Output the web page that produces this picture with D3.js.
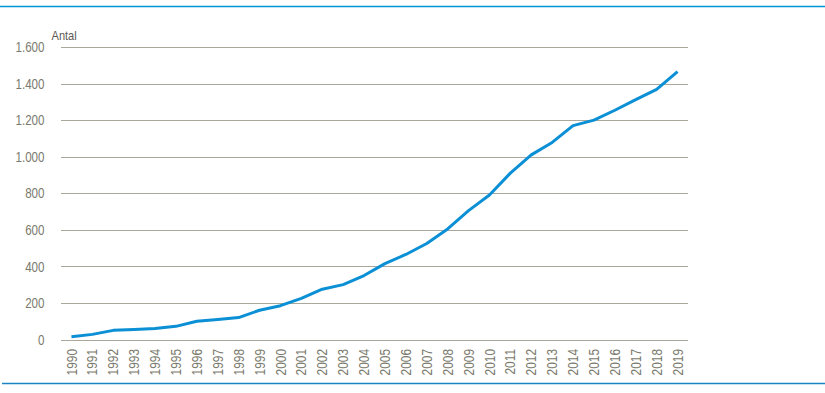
<!DOCTYPE html>
<html>
<head>
<meta charset="utf-8">
<script src="https://cdn.jsdelivr.net/npm/d3@7"></script>
<style>
  body { margin: 0; background: #fff; }
  svg { display: block; }
</style>
</head>
<body>
<div id="chart"></div>
<script>
// values
var years = ["1990","1991","1992","1993","1994","1995","1996","1997","1998","1999",
             "2000","2001","2002","2003","2004","2005","2006","2007","2008","2009",
             "2010","2011","2012","2013","2014","2015","2016","2017","2018","2019"];
var antal = [15, 28, 50, 55, 60, 72, 100, 110, 120, 160,
             185, 225, 275, 300, 350, 415, 465, 525, 605, 705,
             790, 910, 1010, 1078, 1170, 1200, 1254, 1312, 1368, 1465];
var yTicks = [0, 200, 400, 600, 800, 1000, 1200, 1400, 1600];

var width = 825, height = 393,
    margin = { top: 47, right: 137, bottom: 53.5, left: 61 };
var fontFam = "'Liberation Sans', Arial, sans-serif";

// no narrow font installed, so squeeze the glyphs instead
function narrow(sel, k) {
  sel.each(function(){
    var len = this.getComputedTextLength();
    d3.select(this)
      .attr('textLength', len * k)
      .attr('lengthAdjust', 'spacingAndGlyphs');
  });
}

var svg = d3.select('#chart').append('svg')
  .attr('width', width)
  .attr('height', height);

// top and bottom rules
svg.append('line')
  .attr('x1', 0).attr('x2', width)
  .attr('y1', 6.5).attr('y2', 6.5)
  .attr('stroke', '#0097d7')
  .attr('stroke-width', 1.5);
svg.append('line')
  .attr('x1', 2).attr('x2', width)
  .attr('y1', 383.5).attr('y2', 383.5)
  .attr('stroke', '#1b85c4')
  .attr('stroke-width', 1.5);

var x = d3.scaleBand()
  .domain(years)
  .range([margin.left, width - margin.right]);

var y = d3.scaleLinear()
  .domain([0, 1600])
  .range([height - margin.bottom, margin.top]);

var fmt = function(d){ return d3.format(',')(d).replace(/,/g, '.'); };

// gridlines
svg.append('g').attr('id', 'grid')
  .selectAll('line')
  .data(yTicks)
  .enter().append('line')
    .attr('x1', margin.left)
    .attr('x2', width - margin.right)
    .attr('y1', function(d){ return Math.round(y(d)) + 0.5; })
    .attr('y2', function(d){ return Math.round(y(d)) + 0.5; })
    .attr('stroke', '#a9a89b')
    .attr('stroke-width', 1);

// y axis labels
var yAxis = svg.append('g').attr('id', 'yAxis')
  .attr('transform', 'translate(' + (margin.left - 16.5) + ',0)')
  .call(d3.axisLeft(y).tickValues(yTicks).tickFormat(fmt).tickSize(0).tickPadding(0));
yAxis.select('.domain').remove();
yAxis.selectAll('text')
  .attr('font-family', fontFam)
  .attr('font-size', 14.5)
  .attr('fill', '#7a7a6d')
  .call(narrow, 0.8);

// x axis labels (rotated)
var xAxis = svg.append('g').attr('id', 'xAxis')
  .attr('transform', 'translate(0,' + (height - margin.bottom) + ')')
  .call(d3.axisBottom(x).tickSize(0).tickPadding(0));
xAxis.select('.domain').remove();
xAxis.selectAll('text')
  .attr('font-family', fontFam)
  .attr('font-size', 14.5)
  .attr('fill', '#7a7a6d')
  .attr('text-anchor', 'end')
  .attr('transform', 'rotate(-90)')
  .attr('x', -9.5)
  .attr('y', 0)
  .attr('dy', '0.35em')
  .call(narrow, 0.82);

// unit label
svg.append('text')
  .attr('x', 51.5)
  .attr('y', 40)
  .attr('font-family', fontFam)
  .attr('font-size', 13.5)
  .attr('fill', '#5d5a52')
  .text('Antal')
  .call(narrow, 0.82);

// the series line
var line = d3.line()
  .x(function(d, i){ return x(years[i]) + x.bandwidth() / 2; })
  .y(function(d){ return y(d); });

svg.append('path')
  .datum(antal)
  .attr('d', line)
  .attr('fill', 'none')
  .attr('stroke', '#0b8fd5')
  .attr('stroke-width', 3)
  .attr('stroke-linejoin', 'round')
  .attr('stroke-linecap', 'butt');
</script>
</body>
</html>
